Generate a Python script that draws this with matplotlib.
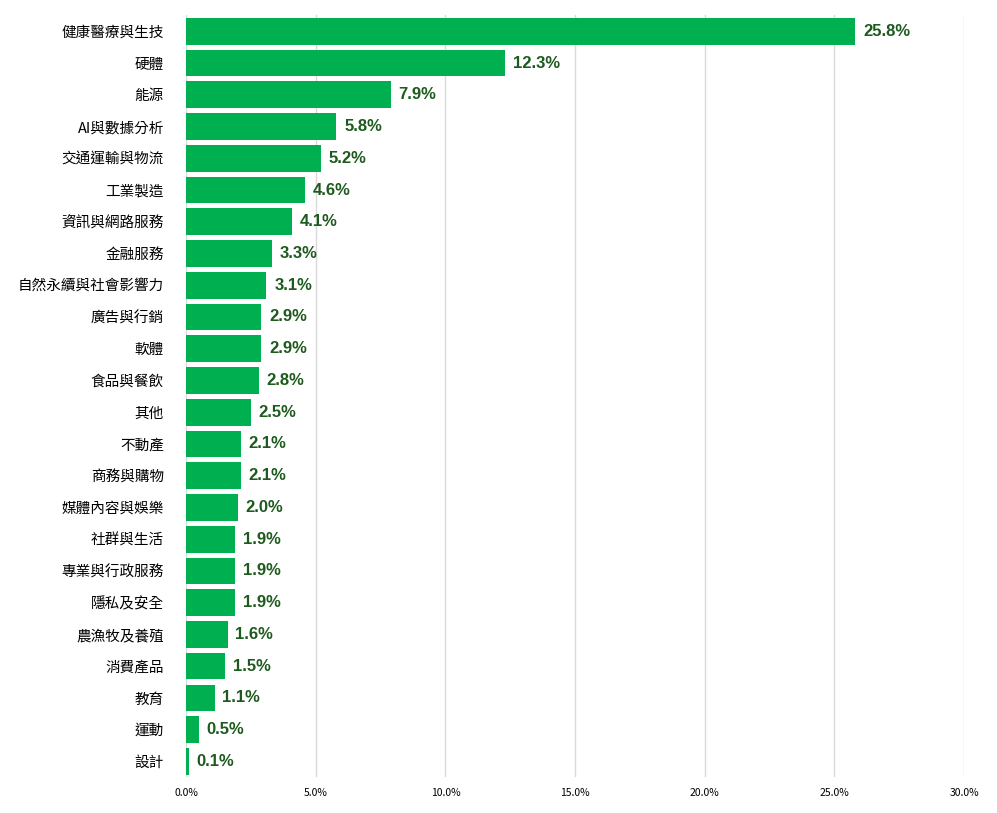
import matplotlib
matplotlib.use("Agg")
import matplotlib.pyplot as plt

plt.rcParams['font.family'] = ['Noto Sans CJK TC', 'DejaVu Sans']

categories = ["健康醫療與生技","硬體","能源","AI與數據分析","交通運輸與物流","工業製造","資訊與網路服務",
              "金融服務","自然永續與社會影響力","廣告與行銷","軟體","食品與餐飲","其他","不動產","商務與購物",
              "媒體內容與娛樂","社群與生活","專業與行政服務","隱私及安全","農漁牧及養殖","消費產品","教育","運動","設計"]
values = [25.8,12.3,7.9,5.8,5.2,4.6,4.1,3.3,3.1,2.9,2.9,2.8,2.5,2.1,2.1,2.0,1.9,1.9,1.9,1.6,1.5,1.1,0.5,0.1]
ticks = [0,5,10,15,20,25,30]

fig = plt.figure(figsize=(9.97,8.13), dpi=100)
ax = fig.add_axes([0.1866,0.044,0.7804,0.937])
y = list(range(len(categories)))
ax.barh(y, values, height=0.84, color="#00b050", zorder=3)
for yi, v in zip(y, values):
    ax.text(v+0.3, yi, f"{v:.1f}%", va="center", ha="left", fontsize=12, fontweight="bold",
            color="#1d5a1d", family=['Liberation Sans','DejaVu Sans'])
ax.set_yticks(y)
ax.set_yticklabels(categories, fontsize=10.5)
ax.set_ylim(len(categories)-0.5, -0.5)
ax.set_xlim(0,30)
ax.set_xticks(ticks)
ax.set_xticklabels([f"{t:.1f}%" for t in ticks], fontsize=7.5)
ax.grid(axis="x", color="#d9d9d9", linewidth=1, zorder=0)
for s in ax.spines.values():
    s.set_visible(False)
ax.tick_params(length=0)
ax.tick_params(axis='y', pad=16)
ax.tick_params(axis='x', pad=8)
fig.savefig("out.png", dpi=100)
